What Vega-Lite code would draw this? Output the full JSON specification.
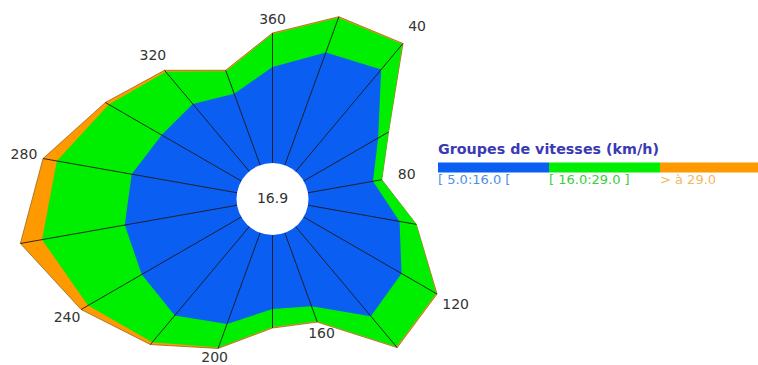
{
  "$schema": "https://vega.github.io/schema/vega-lite/v6.json",
  "width": 758,
  "height": 365,
  "autosize": "none",
  "padding": 0,
  "background": "white",
  "config": {"view": {"stroke": null}, "font": "DejaVu Sans"},
  "datasets": {
    "rose": [
      {"dir": 0, "rank": 1, "group": "[ 5.0:16.0 [", "value": 96},
      {"dir": 0, "rank": 2, "group": "[ 16.0:29.0 ]", "value": 33},
      {"dir": 0, "rank": 3, "group": "> à 29.0", "value": 1},
      {"dir": 20, "rank": 1, "group": "[ 5.0:16.0 [", "value": 120},
      {"dir": 20, "rank": 2, "group": "[ 16.0:29.0 ]", "value": 37},
      {"dir": 20, "rank": 3, "group": "> à 29.0", "value": 1},
      {"dir": 40, "rank": 1, "group": "[ 5.0:16.0 [", "value": 133},
      {"dir": 40, "rank": 2, "group": "[ 16.0:29.0 ]", "value": 33},
      {"dir": 40, "rank": 3, "group": "> à 29.0", "value": 1},
      {"dir": 60, "rank": 1, "group": "[ 5.0:16.0 [", "value": 86},
      {"dir": 60, "rank": 2, "group": "[ 16.0:29.0 ]", "value": 12},
      {"dir": 60, "rank": 3, "group": "> à 29.0", "value": 0},
      {"dir": 80, "rank": 1, "group": "[ 5.0:16.0 [", "value": 66},
      {"dir": 80, "rank": 2, "group": "[ 16.0:29.0 ]", "value": 9},
      {"dir": 80, "rank": 3, "group": "> à 29.0", "value": 0},
      {"dir": 100, "rank": 1, "group": "[ 5.0:16.0 [", "value": 93},
      {"dir": 100, "rank": 2, "group": "[ 16.0:29.0 ]", "value": 17},
      {"dir": 100, "rank": 3, "group": "> à 29.0", "value": 0},
      {"dir": 120, "rank": 1, "group": "[ 5.0:16.0 [", "value": 113},
      {"dir": 120, "rank": 2, "group": "[ 16.0:29.0 ]", "value": 40},
      {"dir": 120, "rank": 3, "group": "> à 29.0", "value": 1},
      {"dir": 140, "rank": 1, "group": "[ 5.0:16.0 [", "value": 117},
      {"dir": 140, "rank": 2, "group": "[ 16.0:29.0 ]", "value": 40},
      {"dir": 140, "rank": 3, "group": "> à 29.0", "value": 1},
      {"dir": 160, "rank": 1, "group": "[ 5.0:16.0 [", "value": 78},
      {"dir": 160, "rank": 2, "group": "[ 16.0:29.0 ]", "value": 16},
      {"dir": 160, "rank": 3, "group": "> à 29.0", "value": 1},
      {"dir": 180, "rank": 1, "group": "[ 5.0:16.0 [", "value": 74},
      {"dir": 180, "rank": 2, "group": "[ 16.0:29.0 ]", "value": 18},
      {"dir": 180, "rank": 3, "group": "> à 29.0", "value": 1},
      {"dir": 200, "rank": 1, "group": "[ 5.0:16.0 [", "value": 97},
      {"dir": 200, "rank": 2, "group": "[ 16.0:29.0 ]", "value": 25},
      {"dir": 200, "rank": 3, "group": "> à 29.0", "value": 1},
      {"dir": 220, "rank": 1, "group": "[ 5.0:16.0 [", "value": 116},
      {"dir": 220, "rank": 2, "group": "[ 16.0:29.0 ]", "value": 35},
      {"dir": 220, "rank": 3, "group": "> à 29.0", "value": 3},
      {"dir": 240, "rank": 1, "group": "[ 5.0:16.0 [", "value": 115},
      {"dir": 240, "rank": 2, "group": "[ 16.0:29.0 ]", "value": 62},
      {"dir": 240, "rank": 3, "group": "> à 29.0", "value": 8},
      {"dir": 260, "rank": 1, "group": "[ 5.0:16.0 [", "value": 114},
      {"dir": 260, "rank": 2, "group": "[ 16.0:29.0 ]", "value": 84},
      {"dir": 260, "rank": 3, "group": "> à 29.0", "value": 22},
      {"dir": 280, "rank": 1, "group": "[ 5.0:16.0 [", "value": 107},
      {"dir": 280, "rank": 2, "group": "[ 16.0:29.0 ]", "value": 76},
      {"dir": 280, "rank": 3, "group": "> à 29.0", "value": 14},
      {"dir": 300, "rank": 1, "group": "[ 5.0:16.0 [", "value": 92},
      {"dir": 300, "rank": 2, "group": "[ 16.0:29.0 ]", "value": 61},
      {"dir": 300, "rank": 3, "group": "> à 29.0", "value": 4},
      {"dir": 320, "rank": 1, "group": "[ 5.0:16.0 [", "value": 88},
      {"dir": 320, "rank": 2, "group": "[ 16.0:29.0 ]", "value": 42},
      {"dir": 320, "rank": 3, "group": "> à 29.0", "value": 2},
      {"dir": 340, "rank": 1, "group": "[ 5.0:16.0 [", "value": 76},
      {"dir": 340, "rank": 2, "group": "[ 16.0:29.0 ]", "value": 24},
      {"dir": 340, "rank": 3, "group": "> à 29.0", "value": 1}
    ],
    "centre": [{"moyenne": 16.9}]
  },
  "layer": [
    {
      "data": {"name": "rose"},
      "transform": [
        {"window": [{"op": "sum", "field": "value", "as": "cum"}], "groupby": ["dir"], "sort": [{"field": "rank"}], "frame": [null, 0]},
        {"calculate": "36 + datum.cum", "as": "r"},
        {"calculate": "datum.r * sin(datum.dir * PI / 180)", "as": "x"},
        {"calculate": "datum.r * cos(datum.dir * PI / 180)", "as": "y"},
        {"calculate": "0", "as": "x0"},
        {"calculate": "0", "as": "y0"}
      ],
      "layer": [
        {
          "transform": [{"filter": "datum.rank == 3"}],
          "mark": {"type": "line", "interpolate": "linear-closed", "filled": true, "stroke": "#9a6424", "strokeWidth": 0.8},
          "encoding": {
            "x": {"field": "x", "type": "quantitative", "scale": {"domain": [-272.5, 485.5], "nice": false, "zero": false}, "axis": null},
            "y": {"field": "y", "type": "quantitative", "scale": {"domain": [-166, 199], "nice": false, "zero": false}, "axis": null},
            "order": {"field": "dir", "type": "quantitative"},
            "color": {
              "field": "group", "type": "nominal",
              "scale": {"domain": ["[ 5.0:16.0 [", "[ 16.0:29.0 ]", "> à 29.0"], "range": ["#0b5ef2", "#00ee00", "#ff9900"]},
              "legend": {
                "orient": "none", "legendX": 438, "legendY": 143, "direction": "horizontal", "columns": 3,
                "columnPadding": 0, "rowPadding": 0, "padding": 0,
                "title": "Groupes de vitesses (km/h)", "titleFont": "DejaVu Sans", "titleFontSize": 14.3,
                "titleFontWeight": "bold", "titleColor": "#3a3ab4", "titlePadding": -33, "titleBaseline": "top", "titleLimit": 400,
                "symbolType": "M-1,-0.315H1V-0.135H-1Z", "symbolSize": 12321, "symbolStrokeWidth": 0,
                "labelOffset": -111, "labelFontSize": 13, "labelFont": "DejaVu Sans", "labelLimit": 200,
                "labelColor": {"expr": "datum.value === '[ 5.0:16.0 [' ? '#4d8fe6' : datum.value === '[ 16.0:29.0 ]' ? '#3ccc3c' : '#f2b865'"}
              }
            }
          }
        },
        {
          "transform": [{"filter": "datum.rank == 2"}],
          "mark": {"type": "line", "interpolate": "linear-closed", "filled": true, "strokeWidth": 0},
          "encoding": {
            "x": {"field": "x", "type": "quantitative", "scale": {"domain": [-272.5, 485.5], "nice": false, "zero": false}, "axis": null},
            "y": {"field": "y", "type": "quantitative", "scale": {"domain": [-166, 199], "nice": false, "zero": false}, "axis": null},
            "order": {"field": "dir", "type": "quantitative"},
            "color": {"field": "group", "type": "nominal"}
          }
        },
        {
          "transform": [{"filter": "datum.rank == 1"}],
          "mark": {"type": "line", "interpolate": "linear-closed", "filled": true, "strokeWidth": 0},
          "encoding": {
            "x": {"field": "x", "type": "quantitative", "scale": {"domain": [-272.5, 485.5], "nice": false, "zero": false}, "axis": null},
            "y": {"field": "y", "type": "quantitative", "scale": {"domain": [-166, 199], "nice": false, "zero": false}, "axis": null},
            "order": {"field": "dir", "type": "quantitative"},
            "color": {"field": "group", "type": "nominal"}
          }
        },
        {
          "transform": [{"filter": "datum.rank == 3"}],
          "mark": {"type": "rule", "color": "#1a1a1a", "strokeWidth": 0.9},
          "encoding": {
            "x": {"field": "x0", "type": "quantitative", "scale": {"domain": [-272.5, 485.5], "nice": false, "zero": false}, "axis": null},
            "y": {"field": "y0", "type": "quantitative", "scale": {"domain": [-166, 199], "nice": false, "zero": false}, "axis": null},
            "x2": {"field": "x"},
            "y2": {"field": "y"}
          }
        },
        {
          "transform": [
            {"filter": "datum.rank == 3 && datum.dir % 40 == 0"},
            {"calculate": "datum.dir == 0 ? '360' : '' + datum.dir", "as": "lbl"},
            {"calculate": "datum.r + 10 + 3 * cos(datum.dir * PI / 180) + 12 * abs(sin(datum.dir * PI / 180)) + 3 * sin(datum.dir * PI / 180)", "as": "lr"},
            {"calculate": "datum.lr * sin(datum.dir * PI / 180)", "as": "lx"},
            {"calculate": "datum.lr * cos(datum.dir * PI / 180)", "as": "ly"}
          ],
          "mark": {"type": "text", "fontSize": 14, "color": "#333333", "align": "center", "baseline": "middle"},
          "encoding": {
            "x": {"field": "lx", "type": "quantitative", "scale": {"domain": [-272.5, 485.5], "nice": false, "zero": false}, "axis": null},
            "y": {"field": "ly", "type": "quantitative", "scale": {"domain": [-166, 199], "nice": false, "zero": false}, "axis": null},
            "text": {"field": "lbl", "type": "nominal"}
          }
        }
      ]
    },
    {
      "data": {"name": "centre"},
      "transform": [
        {"calculate": "0", "as": "cx"},
        {"calculate": "0", "as": "cy"}
      ],
      "layer": [
        {
          "mark": {"type": "point", "filled": true, "color": "white", "opacity": 1, "size": 5184, "shape": "circle"},
          "encoding": {
            "x": {"field": "cx", "type": "quantitative", "scale": {"domain": [-272.5, 485.5], "nice": false, "zero": false}, "axis": null},
            "y": {"field": "cy", "type": "quantitative", "scale": {"domain": [-166, 199], "nice": false, "zero": false}, "axis": null}
          }
        },
        {
          "mark": {"type": "text", "fontSize": 14, "color": "#333333", "align": "center", "baseline": "middle"},
          "encoding": {
            "x": {"field": "cx", "type": "quantitative", "scale": {"domain": [-272.5, 485.5], "nice": false, "zero": false}, "axis": null},
            "y": {"field": "cy", "type": "quantitative", "scale": {"domain": [-166, 199], "nice": false, "zero": false}, "axis": null},
            "text": {"field": "moyenne", "type": "quantitative", "format": ".1f"}
          }
        }
      ]
    }
  ]
}
